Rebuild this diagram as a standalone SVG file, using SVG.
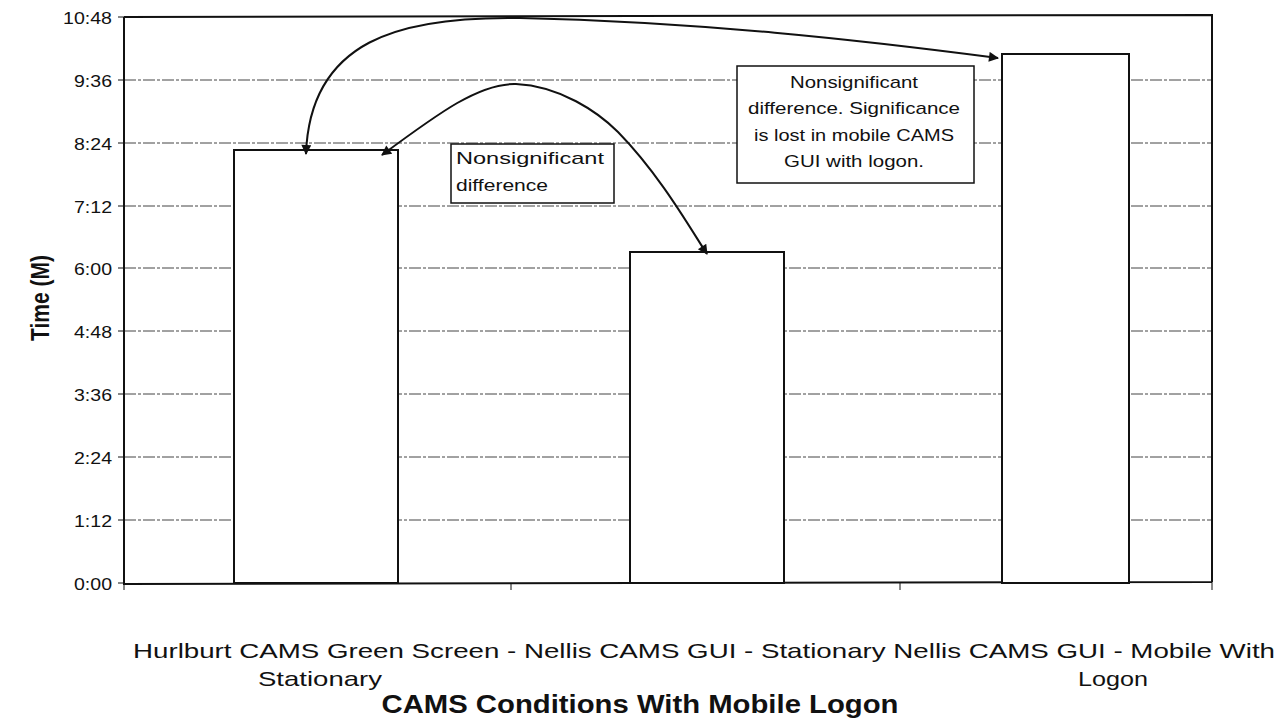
<svg xmlns="http://www.w3.org/2000/svg" width="1282" height="723" viewBox="0 0 1282 723">
<style>
.tick{font-family:"Liberation Sans",Arial,sans-serif;font-size:17px;fill:#111;text-anchor:end}
.grid{stroke:#444;stroke-width:1;stroke-dasharray:12 2 3 2}
.axis{stroke:#111;stroke-width:2;fill:none}
.bar{fill:#fff;stroke:#111;stroke-width:2}
.note{fill:#fff;stroke:#111;stroke-width:1.5}
.nt{font-family:"Liberation Sans",Arial,sans-serif;font-size:17px;fill:#111}
.cat{font-family:"Liberation Sans",Arial,sans-serif;font-size:21px;fill:#111}
.conn{fill:none;stroke:#111;stroke-width:2}
</style>
<defs>
<marker id="ah" viewBox="0 0 10 10" refX="9" refY="5" markerWidth="12" markerHeight="10" markerUnits="userSpaceOnUse" orient="auto-start-reverse">
<path d="M0,0 L10,5 L0,10 z" fill="#111"/>
</marker>
</defs>
<rect width="1282" height="723" fill="#fff"/>
<g id="grid">
<line class="grid" x1="124" y1="80" x2="1212" y2="80"/>
<line class="grid" x1="124" y1="143" x2="1212" y2="143"/>
<line class="grid" x1="124" y1="206" x2="1212" y2="206"/>
<line class="grid" x1="124" y1="268" x2="1212" y2="268"/>
<line class="grid" x1="124" y1="331" x2="1212" y2="331"/>
<line class="grid" x1="124" y1="394" x2="1212" y2="394"/>
<line class="grid" x1="124" y1="457" x2="1212" y2="457"/>
<line class="grid" x1="124" y1="520" x2="1212" y2="520"/>
</g>
<g id="axes">
<path class="axis" d="M124,17 L1212,15 L1212,582 M124,17 L124,584 L1212,582"/>
<path stroke="#111" stroke-width="1" d="M118,17 H124 M118,80 H124 M118,143 H124 M118,206 H124 M118,268 H124 M118,331 H124 M118,394 H124 M118,457 H124 M118,520 H124 M118,583 H124 M124,584 V590 M511,583 V590 M900,583 V590 M1212,582 V590"/>
<text class="tick" x="112" y="24" textLength="49" lengthAdjust="spacingAndGlyphs">10:48</text>
<text class="tick" x="112" y="87" textLength="38" lengthAdjust="spacingAndGlyphs">9:36</text>
<text class="tick" x="112" y="150" textLength="38" lengthAdjust="spacingAndGlyphs">8:24</text>
<text class="tick" x="112" y="213" textLength="38" lengthAdjust="spacingAndGlyphs">7:12</text>
<text class="tick" x="112" y="275" textLength="38" lengthAdjust="spacingAndGlyphs">6:00</text>
<text class="tick" x="112" y="338" textLength="38" lengthAdjust="spacingAndGlyphs">4:48</text>
<text class="tick" x="112" y="401" textLength="38" lengthAdjust="spacingAndGlyphs">3:36</text>
<text class="tick" x="112" y="464" textLength="38" lengthAdjust="spacingAndGlyphs">2:24</text>
<text class="tick" x="112" y="527" textLength="38" lengthAdjust="spacingAndGlyphs">1:12</text>
<text class="tick" x="112" y="590" textLength="38" lengthAdjust="spacingAndGlyphs">0:00</text>
</g>
<g id="bar1"><rect class="bar" x="234" y="150" width="164" height="433"/></g>
<g id="bar2"><rect class="bar" x="630" y="252" width="154" height="331"/></g>
<g id="bar3"><rect class="bar" x="1002" y="54" width="127" height="529"/></g>
<g id="note1">
<rect class="note" x="451" y="144" width="163" height="59"/>
<text class="nt" x="456" y="164" textLength="148" lengthAdjust="spacingAndGlyphs">Nonsignificant</text>
<text class="nt" x="456" y="191" textLength="92" lengthAdjust="spacingAndGlyphs">difference</text>
</g>
<g id="note2">
<rect class="note" x="737" y="66" width="237" height="117"/>
<text class="nt" x="854" y="88" text-anchor="middle" textLength="128" lengthAdjust="spacingAndGlyphs">Nonsignificant</text>
<text class="nt" x="854" y="114" text-anchor="middle" textLength="212" lengthAdjust="spacingAndGlyphs">difference. Significance</text>
<text class="nt" x="854" y="141" text-anchor="middle" textLength="200" lengthAdjust="spacingAndGlyphs">is lost in mobile CAMS</text>
<text class="nt" x="854" y="167" text-anchor="middle" textLength="140" lengthAdjust="spacingAndGlyphs">GUI with logon.</text>
</g>
<g id="connectors">
<path class="conn" marker-start="url(#ah)" marker-end="url(#ah)" d="M306,154 C310,40 400,16 520,18 C700,22 860,40 998,58"/>
<path class="conn" marker-start="url(#ah)" marker-end="url(#ah)" d="M382,155 C440,112 480,83 516,84 C560,86 598,112 618,132 C660,175 690,228 707,254"/>
</g>
<g id="labels">
<text class="cat" x="133" y="658" textLength="1142" lengthAdjust="spacingAndGlyphs">Hurlburt CAMS Green Screen - Nellis CAMS GUI - Stationary Nellis CAMS GUI - Mobile With</text>
<text class="cat" x="320" y="686" text-anchor="middle" textLength="124" lengthAdjust="spacingAndGlyphs">Stationary</text>
<text class="cat" x="1113" y="686" text-anchor="middle" textLength="70" lengthAdjust="spacingAndGlyphs">Logon</text>
<text x="640" y="713" text-anchor="middle" textLength="517" lengthAdjust="spacingAndGlyphs" font-family="'Liberation Sans',Arial,sans-serif" font-size="25" font-weight="bold" fill="#111">CAMS Conditions With Mobile Logon</text>
<text transform="translate(49,298) rotate(-90)" text-anchor="middle" textLength="86" lengthAdjust="spacingAndGlyphs" font-family="'Liberation Sans',Arial,sans-serif" font-size="25" font-weight="bold" fill="#111">Time (M)</text>
</g>
</svg>
